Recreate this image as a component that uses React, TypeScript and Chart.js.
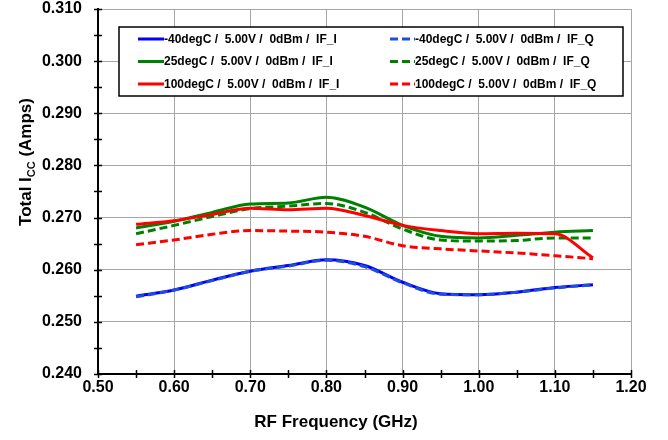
import React, { useEffect, useRef } from "react";
import { Chart, registerables } from "chart.js";

Chart.register(...registerables);

// ---- Data ----
const freqs = [0.55, 0.6, 0.65, 0.7, 0.75, 0.8, 0.85, 0.9, 0.95, 1.0, 1.05, 1.1, 1.15];
const m40_IF_I = [0.2549, 0.2561, 0.258, 0.2597, 0.2608, 0.2619, 0.2608, 0.2576, 0.2554, 0.2552, 0.2557, 0.2566, 0.2571];
const m40_IF_Q = [0.2548, 0.2561, 0.2579, 0.2597, 0.2607, 0.2618, 0.2606, 0.2575, 0.2553, 0.2552, 0.2557, 0.2565, 0.2571];
const t25_IF_I = [0.268, 0.2693, 0.271, 0.2726, 0.2728, 0.2739, 0.272, 0.2685, 0.2664, 0.2661, 0.2666, 0.2672, 0.2675];
const t25_IF_Q = [0.2669, 0.2685, 0.2702, 0.2717, 0.2722, 0.2727, 0.271, 0.2678, 0.2657, 0.2655, 0.2656, 0.2661, 0.2661];
const t100_IF_I = [0.2687, 0.2694, 0.2706, 0.2718, 0.2715, 0.2718, 0.2704, 0.2685, 0.2675, 0.2669, 0.267, 0.2669, 0.2623];
const t100_IF_Q = [0.2648, 0.2657, 0.2668, 0.2675, 0.2674, 0.2672, 0.2664, 0.2646, 0.264, 0.2636, 0.2632, 0.2627, 0.2621];

const seriesLabels = [
  "-40degC /  5.00V /  0dBm /  IF_I",
  "-40degC /  5.00V /  0dBm /  IF_Q",
  "25degC /  5.00V /  0dBm /  IF_I",
  "25degC /  5.00V /  0dBm /  IF_Q",
  "100degC /  5.00V /  0dBm /  IF_I",
  "100degC /  5.00V /  0dBm /  IF_Q",
];

const xTicks = [0.5, 0.6, 0.7, 0.8, 0.9, 1.0, 1.1, 1.2];
const yTicks = [0.24, 0.25, 0.26, 0.27, 0.28, 0.29, 0.3, 0.31];

const xTitle = "RF Frequency (GHz)";
const yTitleMain = "Total I";
const yTitleSub = "CC";
const yTitleTail = " (Amps)";

const FONT = '"Liberation Sans", Arial, sans-serif';

const toPoints = (vals: number[]) => vals.map((v, i) => ({ x: freqs[i], y: v }));

const decorPlugin = {
  id: "decor",
  afterDraw(chart: any) {
    const ctx = chart.ctx as CanvasRenderingContext2D;
    const xs = chart.scales.x;
    const ys = chart.scales.y;
    const area = chart.chartArea;
    ctx.save();

    // Legend box
    const lx = 119, ly = 27, lw = 504, lh = 69;
    ctx.fillStyle = "#fff";
    ctx.fillRect(lx, ly, lw, lh);
    ctx.strokeStyle = "#000";
    ctx.lineWidth = 1.5;
    ctx.strokeRect(lx, ly, lw, lh);
    const rows = [39, 61.5, 84];
    const cols = [
      { s: 138, e: 164 },
      { s: 390, e: 415 },
    ];
    const dsets = chart.data.datasets;
    const order = [
      [0, 2, 4],
      [1, 3, 5],
    ];
    ctx.font = `bold 12px ${FONT}`;
    ctx.textBaseline = "middle";
    ctx.textAlign = "left";
    order.forEach((colIdx, c) => {
      colIdx.forEach((di, r) => {
        const ds = dsets[di];
        const y = rows[r];
        ctx.save();
        ctx.strokeStyle = ds.borderColor;
        ctx.lineWidth = 3;
        ctx.setLineDash(ds.borderDash || []);
        ctx.beginPath();
        ctx.moveTo(cols[c].s, y);
        ctx.lineTo(cols[c].e, y);
        ctx.stroke();
        ctx.restore();
        ctx.fillStyle = "#000";
        ctx.fillText(ds.label, cols[c].e, y + 0.5);
      });
    });

    // crossing ticks (major + minor)
    ctx.strokeStyle = "#000";
    ctx.lineWidth = 1.5;
    const yVals: number[] = [];
    for (let i = 0; i < yTicks.length; i++) {
      yVals.push(yTicks[i]);
      if (i < yTicks.length - 1) yVals.push((yTicks[i] + yTicks[i + 1]) / 2);
    }
    yVals.forEach((v) => {
      const py = Math.round(ys.getPixelForValue(v)) + 0.5;
      ctx.beginPath();
      ctx.moveTo(area.left - 4, py);
      ctx.lineTo(area.left + 4, py);
      ctx.stroke();
    });
    const xVals: number[] = [];
    for (let i = 0; i < xTicks.length; i++) {
      xVals.push(xTicks[i]);
      if (i < xTicks.length - 1) xVals.push((xTicks[i] + xTicks[i + 1]) / 2);
    }
    xVals.forEach((v) => {
      const px = Math.round(xs.getPixelForValue(v)) + 0.5;
      ctx.beginPath();
      ctx.moveTo(px, area.bottom - 4);
      ctx.lineTo(px, area.bottom + 4);
      ctx.stroke();
    });

    // X title
    ctx.fillStyle = "#000";
    ctx.font = `bold 17px ${FONT}`;
    ctx.textAlign = "center";
    ctx.textBaseline = "middle";
    ctx.fillText(xTitle, 336, 422);

    // Y title with subscript
    ctx.save();
    ctx.translate(25, 162);
    ctx.rotate(-Math.PI / 2);
    ctx.textAlign = "left";
    ctx.textBaseline = "alphabetic";
    const fMain = `bold 17px ${FONT}`;
    const fSub = `bold 11px ${FONT}`;
    ctx.font = fMain;
    const w1 = ctx.measureText(yTitleMain).width;
    const w3 = ctx.measureText(yTitleTail).width;
    ctx.font = fSub;
    const w2 = ctx.measureText(yTitleSub).width;
    let sx = -(w1 + w2 + w3) / 2;
    ctx.font = fMain;
    ctx.fillText(yTitleMain, sx, 6);
    sx += w1;
    ctx.font = fSub;
    ctx.fillText(yTitleSub, sx, 10);
    sx += w2;
    ctx.font = fMain;
    ctx.fillText(yTitleTail, sx, 6);
    ctx.restore();

    ctx.restore();
  },
};

export default function App() {
  const ref = useRef<HTMLCanvasElement>(null);
  useEffect(() => {
    if (!ref.current) return;
    const mk = (label: string, vals: number[], color: string, dashed: boolean, order: number) => ({
      label,
      data: toPoints(vals),
      borderColor: color,
      backgroundColor: color,
      borderWidth: 3,
      borderDash: dashed ? [8, 4] : [],
      pointRadius: 0,
      cubicInterpolationMode: "monotone" as const,
      fill: false,
      order,
    });
    const chart = new Chart(ref.current, {
      type: "line",
      data: {
        datasets: [
          mk(seriesLabels[0], m40_IF_I, "#0000FF", false, 6),
          mk(seriesLabels[1], m40_IF_Q, "#1F4FD8", true, 5),
          mk(seriesLabels[2], t25_IF_I, "#008000", false, 4),
          mk(seriesLabels[3], t25_IF_Q, "#008000", true, 3),
          mk(seriesLabels[4], t100_IF_I, "#FF0000", false, 2),
          mk(seriesLabels[5], t100_IF_Q, "#FF0000", true, 1),
        ],
      },
      options: {
        responsive: false,
        animation: false,
        devicePixelRatio: 1,
        layout: { autoPadding: false, padding: { top: 9, right: 37, left: 0, bottom: 0 } },
        plugins: { legend: { display: false }, tooltip: { enabled: false } },
        scales: {
          x: {
            type: "linear",
            min: 0.5,
            max: 1.2,
            afterBuildTicks: (s: any) => {
              s.ticks = xTicks.map((v) => ({ value: v }));
            },
            afterFit: (s: any) => {
              s.height = 66;
              s.paddingLeft = 0;
              s.paddingRight = 0;
              s.paddingTop = 0;
              s.paddingBottom = 0;
            },
            grid: { color: "#A6A6A6", lineWidth: 1, drawTicks: false },
            border: { color: "#000", width: 2 },
            ticks: {
              padding: 4,
              color: "#000",
              font: { family: FONT, size: 16, weight: "bold" },
              callback: (v: any) => Number(v).toFixed(2),
              maxRotation: 0,
              autoSkip: false,
            },
          },
          y: {
            type: "linear",
            min: 0.24,
            max: 0.31,
            afterBuildTicks: (s: any) => {
              s.ticks = yTicks.map((v) => ({ value: v }));
            },
            afterFit: (s: any) => {
              s.width = 98;
              s.paddingLeft = 0;
              s.paddingRight = 0;
              s.paddingTop = 0;
              s.paddingBottom = 0;
            },
            grid: { color: "#A6A6A6", lineWidth: 1, drawTicks: false },
            border: { color: "#000", width: 2 },
            ticks: {
              padding: 16,
              color: "#000",
              font: { family: FONT, size: 16, weight: "bold" },
              callback: (v: any) => Number(v).toFixed(3),
              autoSkip: false,
            },
          },
        },
      },
      plugins: [decorPlugin],
    });
    return () => chart.destroy();
  }, []);
  return (
    <div style={{ position: "absolute", left: 0, top: 0, width: 668, height: 440, background: "#fff" }}>
      <canvas ref={ref} width={668} height={440} style={{ width: 668, height: 440, display: "block" }} />
    </div>
  );
}
